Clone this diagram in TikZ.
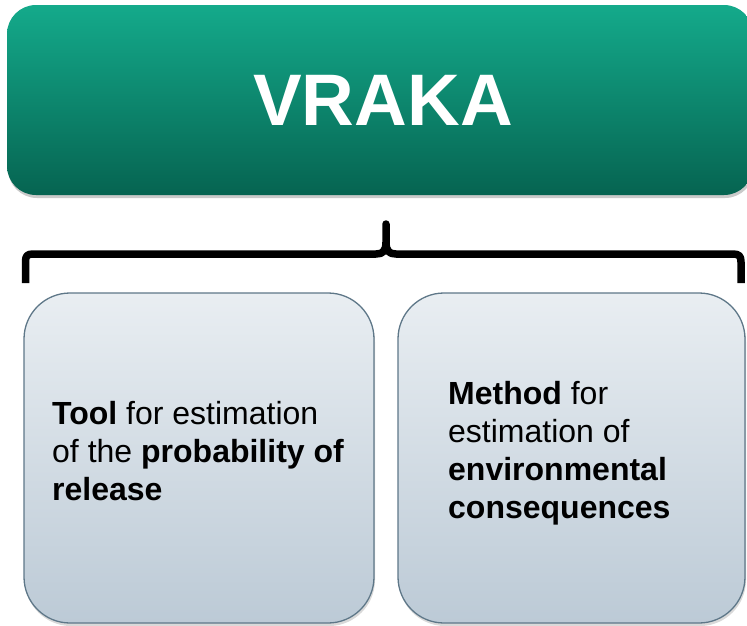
\documentclass[tikz,border=0pt]{standalone}
\usepackage{fontspec}
\setmainfont{Liberation Sans}
\usetikzlibrary{shadows}

\definecolor{headtop}{HTML}{14AA8B}
\definecolor{headbot}{HTML}{066451}
\definecolor{cardtop}{HTML}{E9EEF2}
\definecolor{cardbot}{HTML}{BCCAD6}
\definecolor{cardline}{HTML}{5E7788}

\tikzset{
  headbox/.style={rectangle, rounded corners=29pt, top color=headtop, bottom color=headbot,
    draw=none, minimum width=746pt, minimum height=190pt, inner sep=0pt,
    drop shadow={shadow xshift=1pt, shadow yshift=-3pt, opacity=0.35, fill=black!60}},
  card/.style={rectangle, rounded corners=46pt, top color=cardtop, bottom color=cardbot,
    draw=cardline, line width=1.3pt, inner sep=0pt,
    drop shadow={shadow xshift=1pt, shadow yshift=-3pt, opacity=0.3, fill=black!50}},
  cardtext/.style={font=\fontsize{32}{38}\selectfont, align=left, inner sep=0pt, anchor=north west, text=black},
  brace/.style={line width=7.5pt, line join=round, draw=black}
}

\begin{document}
\begin{tikzpicture}[x=1pt, y=-1pt]
\useasboundingbox (0,0) rectangle (747,625);

% title bar
\node[headbox] (head) at (380,100) {};
\node[text=white, font=\bfseries\fontsize{73}{80}\selectfont, inner sep=0pt, anchor=base] (title) at (383,125) {VRAKA};

% curly brace grouping the two cards
\coordinate (bl) at (25.5,283);
\coordinate (br) at (741,283);
\coordinate (tip) at (386,224);
\draw[brace] (bl) -- (25.5,262) .. controls (25.5,256) and (27,254) .. (33,254)
  -- (376,254) .. controls (383,254) and (386,251) .. (386,242) -- (tip)
  -- (386,242) .. controls (386,251) and (389,254) .. (396,254)
  -- (733,254) .. controls (739,254) and (741,256) .. (741,262) -- (br);

% two cards
\node[card, minimum width=350pt, minimum height=330pt] (tool) at (199,458) {};
\node[card, minimum width=347pt, minimum height=330pt] (method) at (571.5,458) {};

\node[cardtext] (tooltext) at (52,401) {\textbf{Tool} for estimation\\of the \textbf{probability of}\\\textbf{release}};
\node[cardtext] (methodtext) at (448,381) {\textbf{Method} for\\estimation of\\\textbf{environmental}\\\textbf{consequences}};
\end{tikzpicture}
\end{document}
